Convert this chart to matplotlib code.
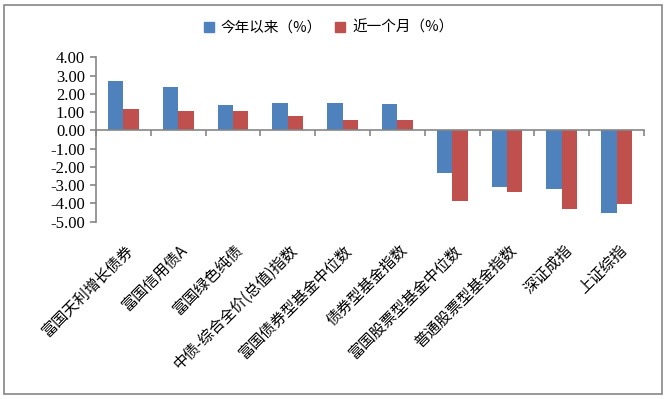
import numpy as np
import matplotlib
matplotlib.use("Agg")
import matplotlib.pyplot as plt
from matplotlib.patches import Rectangle, Patch

plt.rcParams['font.family'] = ['Noto Sans CJK SC', 'DejaVu Sans']

categories = ['富国天利增长债券', '富国信用债A', '富国绿色纯债', '中债-综合全价(总值)指数',
              '富国债券型基金中位数', '债券型基金指数', '富国股票型基金中位数',
              '普通股票型基金指数', '深证成指', '上证综指']
ytd = [2.70, 2.37, 1.39, 1.50, 1.50, 1.44, -2.34, -3.09, -3.22, -4.53]
month = [1.17, 1.06, 1.06, 0.78, 0.56, 0.56, -3.86, -3.36, -4.31, -4.04]
series_names = ['今年以来（%）', '近一个月（%）']
yticks = [4, 3, 2, 1, 0, -1, -2, -3, -4, -5]

blue = '#4F81BD'
red = '#C0504D'
axis_gray = '#868686'

fig = plt.figure(figsize=(6.68, 3.99), dpi=100)
ax = fig.add_axes([0.1437, 0.4446, 0.8203, 0.4118])

x = np.arange(len(categories))
w = 0.28
ax.bar(x - w / 2, ytd, w, color=blue, label=series_names[0])
ax.bar(x + w / 2, month, w, color=red, label=series_names[1])

ax.set_xlim(-0.5, len(categories) - 0.5)
ax.set_ylim(-5, 4)

# axis styling
for s in ['top', 'right']:
    ax.spines[s].set_visible(False)
ax.spines['bottom'].set_position(('data', 0))
ax.spines['bottom'].set_color(axis_gray)
ax.spines['left'].set_color(axis_gray)
ax.spines['bottom'].set_linewidth(1.2)
ax.spines['left'].set_linewidth(1.2)

ax.set_yticks(yticks)
ax.set_yticklabels(['%.2f' % v for v in yticks], family='Liberation Serif', fontsize=12)
ax.tick_params(axis='y', direction='out', length=4.5, color=axis_gray, width=1.2, pad=3.5)

ax.set_xticks(np.arange(-0.5, len(categories), 1.0))
ax.set_xticklabels([])
ax.tick_params(axis='x', direction='out', length=4.5, color=axis_gray, width=1.2)

# rotated category labels below the plot area
for i, lab in enumerate(categories):
    ax.annotate(lab, xy=(i, 0), xycoords=('data', 'axes fraction'),
                xytext=(1, -14.5), textcoords='offset points',
                rotation=45, rotation_mode='anchor', ha='right', va='top',
                fontsize=11)

handles = [Patch(color=blue), Patch(color=red)]
fig.legend(handles, series_names, loc='center', bbox_to_anchor=(0.492, 0.93),
           ncol=2, frameon=False, fontsize=10.5, handlelength=0.65, handleheight=0.65,
           handletextpad=0.5, columnspacing=0.9)

# outer chart border
fig.patches.append(Rectangle((4 / 668, 5 / 399), 658 / 668, 389 / 399,
                             transform=fig.transFigure, fill=False,
                             edgecolor=axis_gray, linewidth=1.2))

fig.savefig('out.png', dpi=100)
